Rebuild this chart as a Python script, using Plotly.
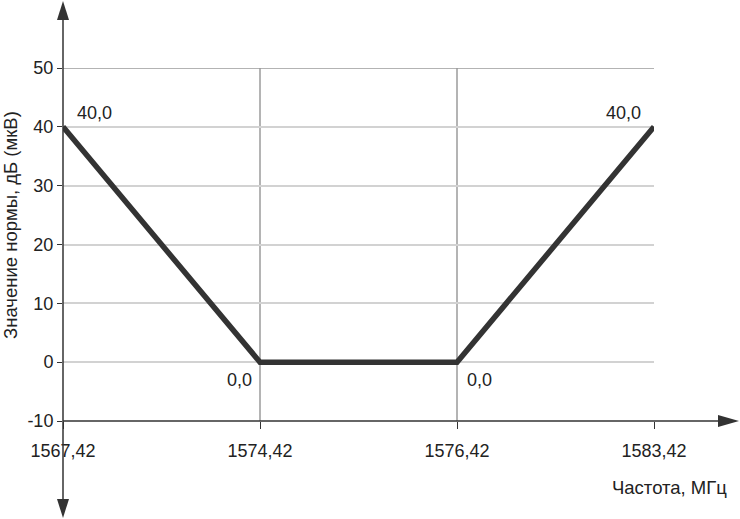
import plotly.graph_objects as go

freq_labels = ["1567,42", "1574,42", "1576,42", "1583,42"]
norm_values = [40.0, 0.0, 0.0, 40.0]
point_labels = ["40,0", "0,0", "0,0", "40,0"]
y_ticks = [-10, 0, 10, 20, 30, 40, 50]
y_tick_labels = ["-10", "0", "10", "20", "30", "40", "50"]

x_idx = list(range(len(freq_labels)))

FONT = "Liberation Sans, Arial, sans-serif"
W, H = 740, 519
L, R, T, B = 63, 86, 68, 98
pw, ph = W - L - R, H - T - B

def px(xp):
    return (xp - L) / pw

def py(yp):
    return (H - B - yp) / ph

fig = go.Figure()
fig.add_trace(go.Scatter(
    x=x_idx, y=norm_values, mode="lines",
    line=dict(color="#333333", width=5.5),
    cliponaxis=False, hoverinfo="skip", showlegend=False,
))

label_style = [
    dict(xanchor="left", xshift=12, yshift=14),
    dict(xanchor="right", xshift=-6, yshift=-18),
    dict(xanchor="left", xshift=8, yshift=-18),
    dict(xanchor="right", xshift=-11, yshift=14),
]

annotations = []
for xi, yv, t, st in zip(x_idx, norm_values, point_labels, label_style):
    annotations.append(dict(x=xi, y=yv, xref="x", yref="y", text=t, showarrow=False,
                            yanchor="middle", font=dict(family=FONT, size=18, color="#222222"),
                            **st))

annotations += [
    dict(text="Значение нормы, дБ (мкВ)", xref="paper", yref="paper",
         x=px(10), y=py(225), textangle=-90, showarrow=False,
         font=dict(family=FONT, size=18.5, color="#222222"),
         xanchor="center", yanchor="middle"),
    dict(text="Частота, МГц", xref="paper", yref="paper",
         x=px(729), y=py(488), showarrow=False,
         font=dict(family=FONT, size=18.5, color="#222222"),
         xanchor="right", yanchor="middle"),
]

shapes = []
shapes.append(dict(type="line", xref="paper", yref="y", x0=0, x1=1, y0=50, y1=50,
                   line=dict(color="#9a9a9a", width=1.5)))
shapes.append(dict(type="line", xref="paper", yref="paper", x0=0, x1=0,
                   y0=py(505), y1=py(14), line=dict(color="#333333", width=1.5)))
shapes.append(dict(type="path", xref="paper", yref="paper",
                   path=f"M {px(63)} {py(1)} L {px(57)} {py(20)} L {px(69)} {py(20)} Z",
                   fillcolor="#333333", line=dict(width=0)))
shapes.append(dict(type="path", xref="paper", yref="paper",
                   path=f"M {px(63)} {py(518)} L {px(57)} {py(499)} L {px(69)} {py(499)} Z",
                   fillcolor="#333333", line=dict(width=0)))
shapes.append(dict(type="line", xref="paper", yref="paper", x0=0, x1=px(722),
                   y0=0, y1=0, line=dict(color="#333333", width=1.5)))
shapes.append(dict(type="path", xref="paper", yref="paper",
                   path=f"M {px(739)} {py(421)} L {px(718)} {py(415)} L {px(718)} {py(427)} Z",
                   fillcolor="#333333", line=dict(width=0)))

fig.update_layout(
    width=W, height=H,
    margin=dict(l=L, r=R, t=T, b=B, pad=0),
    paper_bgcolor="white", plot_bgcolor="white",
    font=dict(family=FONT, size=18, color="#222222"),
    shapes=shapes,
    annotations=annotations,
)
fig.update_xaxes(
    range=[0, 3], tickvals=x_idx, ticktext=freq_labels,
    showgrid=True, gridcolor="#b4b4b4", gridwidth=1.5,
    zeroline=False, showline=False,
    ticks="outside", ticklen=7, tickwidth=1, tickcolor="#333333",
    ticklabelstandoff=6,
    tickfont=dict(family=FONT, size=18, color="#222222"),
)
fig.update_yaxes(
    range=[-10, 50], tickvals=y_ticks, ticktext=y_tick_labels,
    showgrid=True, gridcolor="#d2d2d2", gridwidth=1.5,
    zeroline=False, showline=False,
    ticks="outside", ticklen=5, tickwidth=1, tickcolor="#333333",
    tickfont=dict(family=FONT, size=18, color="#222222"),
)

fig.write_html("out.html", config={"displayModeBar": False},
               post_script="document.body.style.margin='0';document.body.style.overflow='hidden';")
